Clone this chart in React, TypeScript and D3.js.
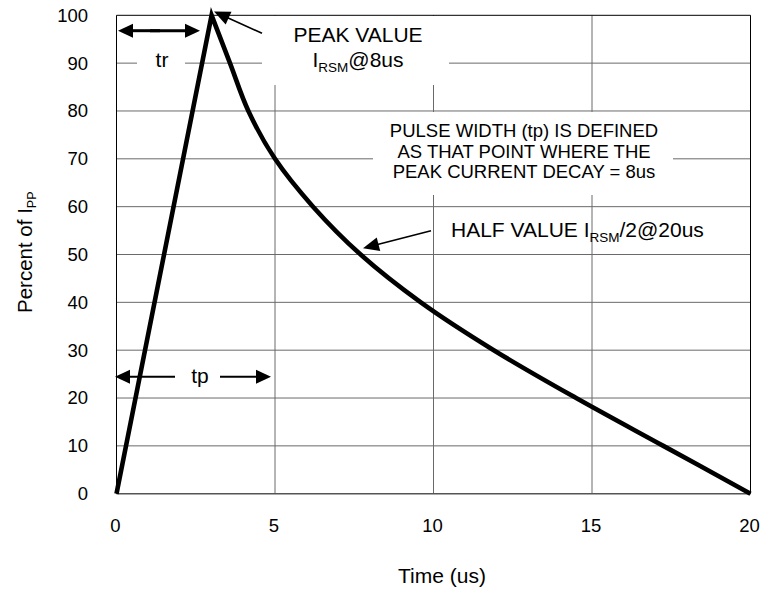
import React from "react";
import * as d3 from "d3";

// ---- data ----
const TIME_US = [0, 3, 3.58, 4.16, 5.0, 6.2, 7.7, 9.6, 11.9, 14.5, 17.25, 20];
const PERCENT_IPP = [0, 100, 90, 80, 70, 60, 50, 40, 30, 20, 10, 0];
const X_TICKS = [0, 5, 10, 15, 20];
const Y_TICKS = [0, 10, 20, 30, 40, 50, 60, 70, 80, 90, 100];

const W = 778;
const H = 596;
const FONT = "'Liberation Sans', Arial, Helvetica, sans-serif";

const x = d3.scaleLinear().domain([0, 20]).range([116.5, 750.5]);
const y = d3.scaleLinear().domain([0, 100]).range([493.7, 15.3]);

type P = [number, number];

function Arrow({ from, to, head = 15, half = 7, sw = 2 }: { from: P; to: P; head?: number; half?: number; sw?: number }) {
  const dx = to[0] - from[0];
  const dy = to[1] - from[1];
  const len = Math.hypot(dx, dy);
  const ux = dx / len;
  const uy = dy / len;
  const bx = to[0] - ux * head;
  const by = to[1] - uy * head;
  const px = -uy;
  const py = ux;
  const pts = `${to[0]},${to[1]} ${bx + px * half},${by + py * half} ${bx - px * half},${by - py * half}`;
  return (
    <g>
      <line x1={from[0]} y1={from[1]} x2={bx + ux * 1} y2={by + uy * 1} stroke="#000" strokeWidth={sw} />
      <polygon points={pts} fill="#000" />
    </g>
  );
}

export default function App() {
  const pts: P[] = TIME_US.map((t, i) => [t, PERCENT_IPP[i]]);
  const peakIdx = PERCENT_IPP.indexOf(d3.max(PERCENT_IPP) as number);
  const rise = pts.slice(0, peakIdx + 1);
  const decay = pts.slice(peakIdx);
  const riseD = d3.line<P>().x((d) => x(d[0])).y((d) => y(d[1]))(rise) as string;
  const decayD = (d3
    .line<P>()
    .x((d) => x(d[0]))
    .y((d) => y(d[1]))
    .curve(d3.curveCatmullRom.alpha(0.5))(decay) as string).replace(/^M/, "L");
  const pathD = riseD + decayD;

  const [x0, x1] = x.range();
  const [y0, y1] = y.range();
  const gridColor = "#6a6a6a";

  return (
    <svg width={W} height={H} style={{ position: "absolute", left: 0, top: 0, background: "#fff" }} fontFamily={FONT}>
      <rect x={0} y={0} width={W} height={H} fill="#fff" />
      {/* grid */}
      {Y_TICKS.filter((v) => v > 0 && v < 100).map((v) => (
        <line key={"h" + v} x1={x0} x2={x1} y1={y(v)} y2={y(v)} stroke={gridColor} strokeWidth={1} />
      ))}
      {X_TICKS.filter((v) => v > 0 && v < 20).map((v) => (
        <line key={"v" + v} x1={x(v)} x2={x(v)} y1={y1} y2={y0} stroke={gridColor} strokeWidth={1} />
      ))}
      {/* white boxes behind annotations */}
      <rect x={137} y={50} width={48} height={26} fill="#fff" />
      <rect x={262} y={16} width={187} height={69} fill="#fff" />
      <rect x={373} y={112} width={300} height={83} fill="#fff" />
      {/* frame */}
      <line x1={x0} x2={x1} y1={y1} y2={y1} stroke="#000" strokeWidth={1} />
      <line x1={x1} x2={x1} y1={y1} y2={y0} stroke="#000" strokeWidth={1} />
      <line x1={x0} x2={x0} y1={y1} y2={y0} stroke="#000" strokeWidth={1} />
      <line x1={x0} x2={x1} y1={y0} y2={y0} stroke="#555" strokeWidth={1.6} />

      {/* curve */}
      <path d={pathD} fill="none" stroke="#000" strokeWidth={4.6} strokeLinejoin="miter" strokeMiterlimit={20} />

      {/* tick labels */}
      {Y_TICKS.map((v) => (
        <text key={"yl" + v} x={88} y={y(v)} dy="0.35em" textAnchor="end" fontSize={18.5} fill="#000">
          {v}
        </text>
      ))}
      {X_TICKS.map((v) => (
        <text key={"xl" + v} x={x(v) - 1} y={531.5} textAnchor="middle" fontSize={18.5} fill="#000">
          {v}
        </text>
      ))}

      {/* axis titles */}
      <text x={442} y={583} textAnchor="middle" fontSize={21} fill="#000">
        Time (us)
      </text>
      <text transform={`translate(31.7,313) rotate(-90)`} x={0} y={0} textAnchor="start" fontSize={20.5} fill="#000">
        Percent of I
        <tspan fontSize={12.5} dy={4}>PP</tspan>
      </text>

      {/* annotations */}
      <Arrow from={[160, 30.7]} to={[118, 30.7]} head={15} half={7} sw={3} />
      <Arrow from={[150, 30.7]} to={[200, 30.7]} head={15} half={7} sw={3} />
      <text x={162} y={67} textAnchor="middle" fontSize={21} fill="#000">tr</text>

      <Arrow from={[262, 33.3]} to={[214, 11.5]} head={16} half={7} sw={1.6} />
      <text x={358} y={42} textAnchor="middle" fontSize={21} fill="#000">PEAK VALUE</text>
      <text x={358} y={66.7} textAnchor="middle" fontSize={21} fill="#000">
        I<tspan fontSize={13.5} dy={5}>RSM</tspan>
        <tspan dy={-5}>@8us</tspan>
      </text>

      <text textAnchor="middle" fontSize={18.5} fill="#000">
        <tspan x={524} y={136.7}>PULSE WIDTH (tp) IS DEFINED</tspan>
        <tspan x={524} y={157.7}>AS THAT POINT WHERE THE</tspan>
        <tspan x={524} y={178.3}>PEAK CURRENT DECAY = 8us</tspan>
      </text>

      <Arrow from={[431, 230.7]} to={[363, 248.3]} head={16} half={7} sw={1.6} />
      <text x={451} y={236.7} fontSize={21} fill="#000">
        HALF VALUE I<tspan fontSize={13.5} dy={5}>RSM</tspan>
        <tspan dy={-5}>/2@20us</tspan>
      </text>

      <Arrow from={[175, 376.7]} to={[115, 376.7]} head={15} half={7} sw={2} />
      <Arrow from={[220, 376.7]} to={[271, 376.7]} head={15} half={7} sw={2} />
      <text x={200} y={383} textAnchor="middle" fontSize={21} fill="#000">tp</text>
    </svg>
  );
}
